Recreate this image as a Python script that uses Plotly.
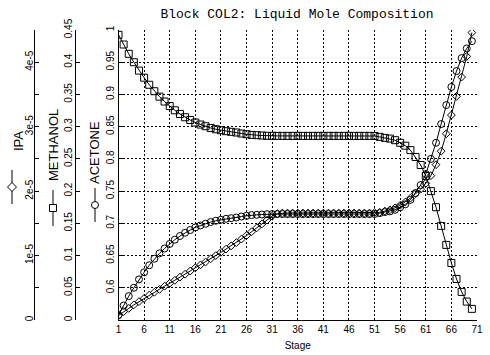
import plotly.graph_objects as go

# ---------------- data ----------------
stages = list(range(1, 71))

methanol = [0.4425, 0.4275, 0.413, 0.400, 0.387, 0.376, 0.365, 0.355, 0.3466, 0.339,
            0.332, 0.3254, 0.3197, 0.3146, 0.3104, 0.3064, 0.3033, 0.3007, 0.298, 0.296,
            0.2945, 0.293, 0.292, 0.291, 0.2894, 0.2883, 0.2872, 0.2868, 0.2863, 0.2858,
            0.2857, 0.2857, 0.2857, 0.2857, 0.2857, 0.2857, 0.2857, 0.2857, 0.2857, 0.2857,
            0.2857, 0.2857, 0.2857, 0.2857, 0.2857, 0.2857, 0.2857, 0.2857, 0.2857, 0.2857,
            0.2855, 0.2842, 0.2826, 0.2815, 0.279, 0.275, 0.2705, 0.2636, 0.253, 0.2405,
            0.2235, 0.200, 0.175, 0.146, 0.1165, 0.0884, 0.0637, 0.0436, 0.0286, 0.0173]

acetone = [0.5575, 0.5725, 0.587, 0.600, 0.613, 0.624, 0.635, 0.645, 0.6534, 0.661,
           0.668, 0.6746, 0.6803, 0.6854, 0.6896, 0.6936, 0.6967, 0.6993, 0.702, 0.704,
           0.7055, 0.707, 0.708, 0.709, 0.7106, 0.7117, 0.7128, 0.7132, 0.7137, 0.7142,
           0.7143, 0.7143, 0.7143, 0.7143, 0.7143, 0.7143, 0.7143, 0.7143, 0.7143, 0.7143,
           0.7143, 0.7143, 0.7143, 0.7143, 0.7143, 0.7143, 0.7143, 0.7143, 0.7143, 0.7143,
           0.7145, 0.7158, 0.7174, 0.7185, 0.721, 0.725, 0.7295, 0.7364, 0.747, 0.7595,
           0.7765, 0.800, 0.825, 0.854, 0.8835, 0.9116, 0.9363, 0.9564, 0.9714, 0.9827]

ipa = [0.07e-5, 0.13e-5, 0.18e-5, 0.235e-5, 0.285e-5, 0.335e-5, 0.385e-5, 0.43e-5, 0.475e-5, 0.525e-5,
       0.57e-5, 0.615e-5, 0.665e-5, 0.71e-5, 0.76e-5, 0.81e-5, 0.855e-5, 0.90e-5, 0.95e-5, 1.0e-5,
       1.05e-5, 1.10e-5, 1.15e-5, 1.20e-5, 1.255e-5, 1.31e-5, 1.37e-5, 1.43e-5, 1.49e-5, 1.55e-5,
       1.61e-5, 1.65e-5, 1.66e-5, 1.66e-5, 1.66e-5, 1.66e-5, 1.66e-5, 1.66e-5, 1.66e-5, 1.66e-5,
       1.66e-5, 1.66e-5, 1.66e-5, 1.66e-5, 1.66e-5, 1.66e-5, 1.66e-5, 1.66e-5, 1.66e-5, 1.66e-5,
       1.665e-5, 1.67e-5, 1.69e-5, 1.71e-5, 1.74e-5, 1.78e-5, 1.83e-5, 1.89e-5, 1.96e-5, 2.03e-5,
       2.12e-5, 2.24e-5, 2.41e-5, 2.62e-5, 2.89e-5, 3.18e-5, 3.47e-5, 3.77e-5, 4.09e-5, 4.46e-5]

x_ticks = [1, 6, 11, 16, 21, 26, 31, 36, 41, 46, 51, 56, 61, 66, 71]
acetone_ticks = [0.6, 0.65, 0.7, 0.75, 0.8, 0.85, 0.9, 0.95, 1.0]
acetone_labels = ["0.6", "0.65", "0.7", "0.75", "0.8", "0.85", "0.9", "0.95", "1"]
methanol_ticks = [0, 0.05, 0.1, 0.15, 0.2, 0.25, 0.3, 0.35, 0.4, 0.45]
methanol_labels = ["0", "0.05", "0.1", "0.15", "0.2", "0.25", "0.3", "0.35", "0.4", "0.45"]
ipa_ticks = [0, 1e-5, 2e-5, 3e-5, 4e-5]
ipa_labels = ["0", "1e-5", "2e-5", "3e-5", "4e-5"]

title_text = "Block COL2: Liquid Mole Composition"

# ---------------- figure ----------------
W, H = 490, 355
ML, MR, MT, MB = 0, 13, 30, 35
PW = W - ML - MR
PH = H - MT - MB
PLOT_LEFT = 118.5


def px_x(p):
    return (p - ML) / PW


def px_y(p):
    return (H - MB - p) / PH


line_style = dict(color="black", width=1)

fig = go.Figure()
fig.add_trace(go.Scatter(x=stages, y=methanol, yaxis="y2", mode="lines+markers",
                         line=line_style, name="METHANOL",
                         marker=dict(symbol="square-open", size=7, color="black",
                                     line=dict(width=1, color="black"))))
fig.add_trace(go.Scatter(x=stages, y=acetone, yaxis="y", mode="lines+markers",
                         line=line_style, name="ACETONE",
                         marker=dict(symbol="circle-open", size=7, color="black",
                                     line=dict(width=1, color="black"))))
fig.add_trace(go.Scatter(x=stages, y=ipa, yaxis="y3", mode="lines+markers",
                         line=line_style, name="IPA",
                         marker=dict(symbol="diamond-open", size=6, color="black",
                                     line=dict(width=1, color="black"))))

axis_common = dict(showline=True, linecolor="black", linewidth=1, ticks="inside",
                   ticklen=4, tickcolor="black", tickwidth=1, tickangle=-90,
                   zeroline=False, automargin=False,
                   tickfont=dict(size=10, color="black"))

fig.update_layout(
    width=W, height=H,
    margin=dict(l=ML, r=MR, t=MT, b=MB, pad=0, autoexpand=False),
    paper_bgcolor="white", plot_bgcolor="white",
    font=dict(family="Liberation Sans", color="black", size=10),
    showlegend=False,
    title=dict(text=title_text, x=(297 - ML) / PW, xanchor="center", xref="paper",
               y=1 - 13 / H, yanchor="middle",
               font=dict(family="Liberation Mono", size=13, color="black")),
    xaxis=dict(domain=[px_x(PLOT_LEFT), 1], range=[1, 71], tickvals=x_ticks,
               showgrid=True, gridcolor="black", gridwidth=1, griddash="2px,2px",
               showline=True, linecolor="black", linewidth=1, ticks="",
               zeroline=False, automargin=False, tickfont=dict(size=10, color="black"),
               title=dict(text="Stage", font=dict(size=10), standoff=7)),
    yaxis=dict(range=[0.55, 1.0], tickvals=acetone_ticks, ticktext=acetone_labels,
               showgrid=True, gridcolor="black", gridwidth=1, griddash="2px,2px",
               anchor="x", side="left", ticklabelstandoff=0, **axis_common),
    yaxis2=dict(range=[0, 0.45], tickvals=methanol_ticks, ticktext=methanol_labels,
                showgrid=False, overlaying="y", anchor="free", side="left",
                position=px_x(75), ticklabelstandoff=-1, **axis_common),
    yaxis3=dict(range=[0, 4.5e-5], tickvals=ipa_ticks, ticktext=ipa_labels,
                showgrid=False, overlaying="y", anchor="free", side="left",
                position=px_x(34), ticklabelstandoff=-3,
                minor=dict(ticks="inside", dtick=0.5e-5, ticklen=4, tickcolor="black"),
                **axis_common),
)

# ---------------- axis legends (rotated titles with symbols) ----------------
legend_items = [
    # name, text x px, text centre y px, symbol x px, symbol centre y px, half line, symbol
    ("IPA", 18, 141, 12, 187, 17, "diamond"),
    ("METHANOL", 53, 145, 53, 208, 18, "square"),
    ("ACETONE", 94, 153, 95, 205, 17, "circle"),
]
for name, tx, ty, sx, sy, half, sym in legend_items:
    fig.add_annotation(x=px_x(tx), y=px_y(ty), xref="paper", yref="paper",
                       text=name, textangle=-90, showarrow=False,
                       font=dict(size=13, color="black"),
                       xanchor="center", yanchor="middle")
    fig.add_shape(type="line", xref="paper", yref="paper",
                  x0=px_x(sx), x1=px_x(sx), y0=px_y(sy - half), y1=px_y(sy + half),
                  line=dict(color="black", width=1))
    common = dict(xref="paper", yref="paper", xsizemode="pixel", ysizemode="pixel",
                  xanchor=px_x(sx), yanchor=px_y(sy),
                  line=dict(color="black", width=1), fillcolor="white")
    if sym == "square":
        fig.add_shape(type="rect", x0=-3.5, x1=3.5, y0=-3.5, y1=3.5, **common)
    elif sym == "circle":
        fig.add_shape(type="circle", x0=-3.5, x1=3.5, y0=-3.5, y1=3.5, **common)
    else:
        fig.add_shape(type="path", path="M 0,4.5 L 4.5,0 L 0,-4.5 L -4.5,0 Z", **common)

fig.write_html("out.html", config={"displayModeBar": False},
               post_script="document.body.style.margin='0';document.body.style.padding='0';")
